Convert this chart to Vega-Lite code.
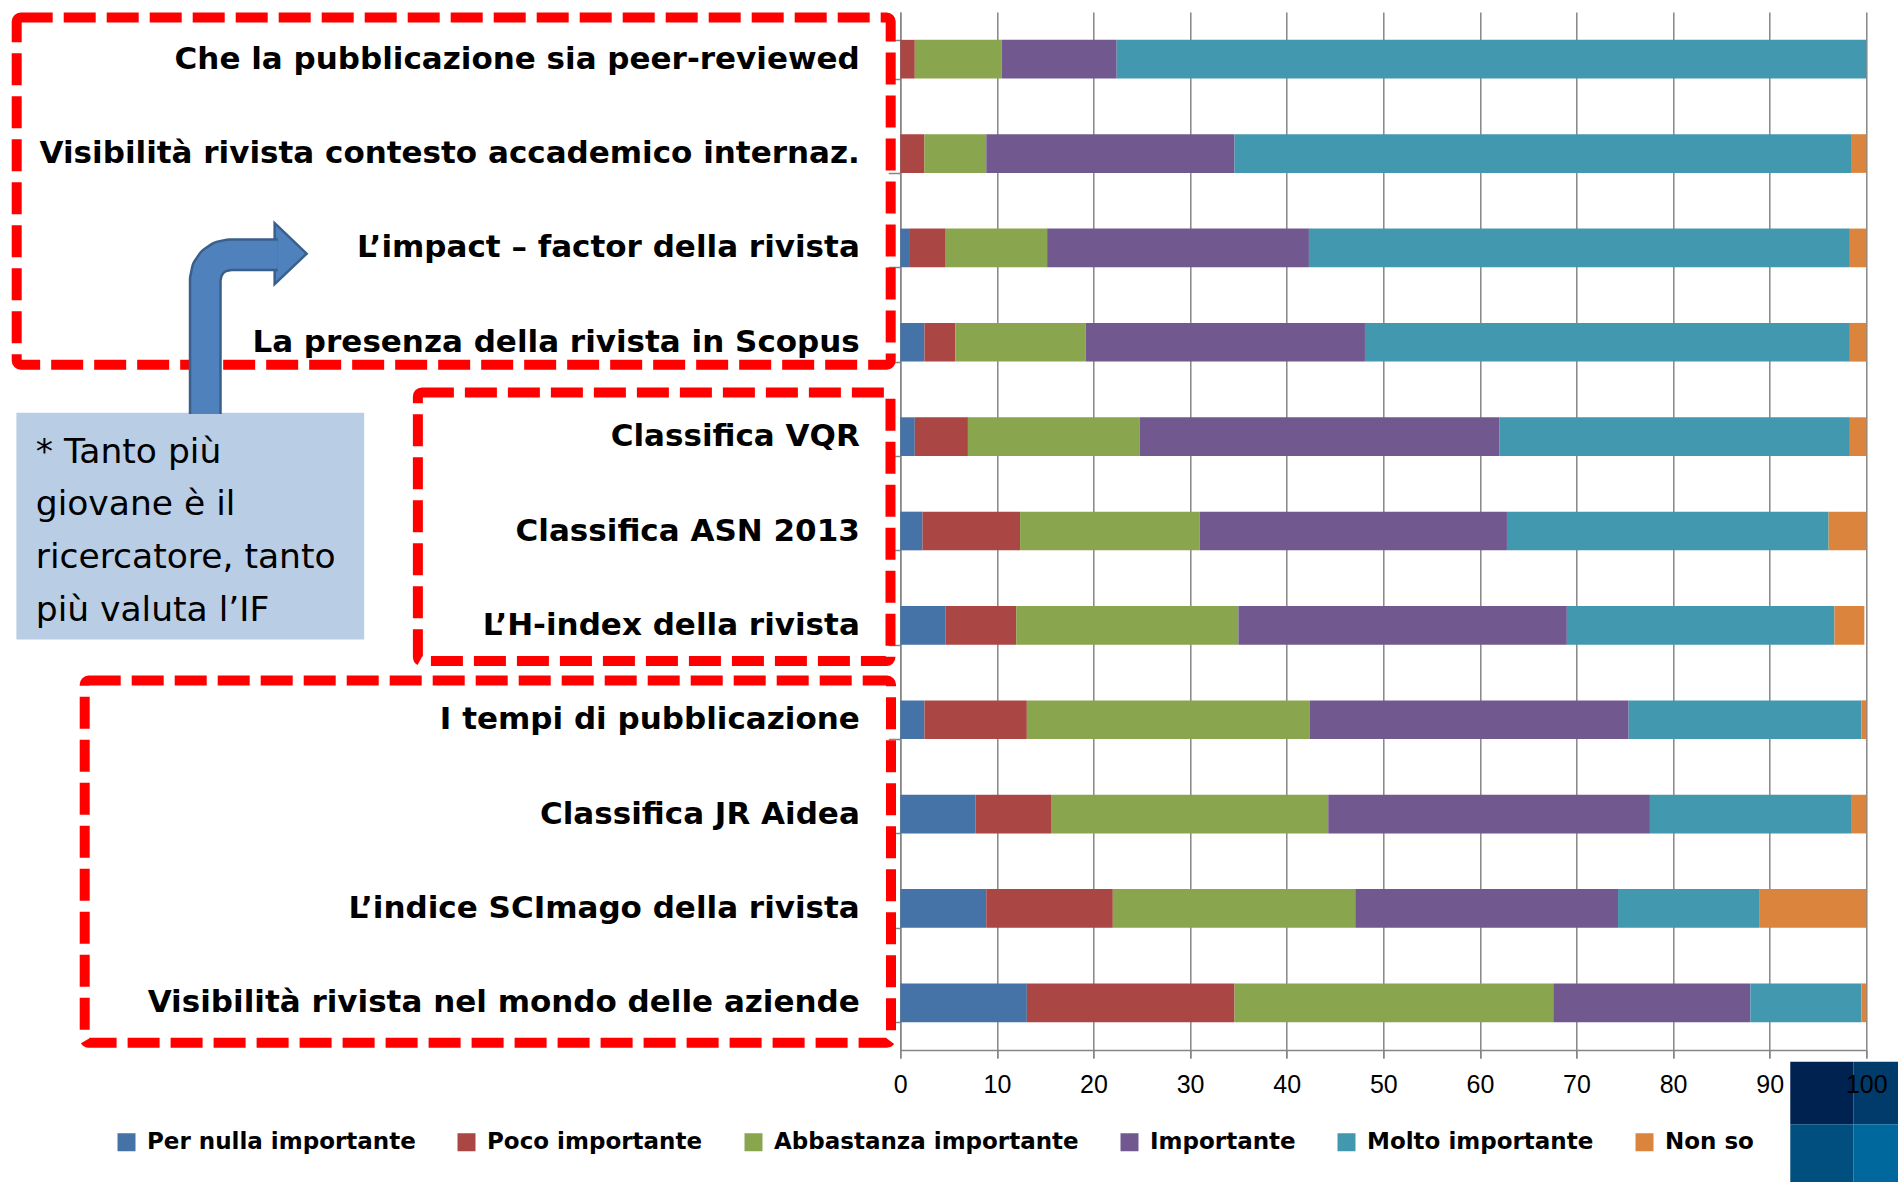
{
  "$schema": "https://vega.github.io/schema/vega-lite/v6.json",
  "width": 966,
  "height": 1038,
  "autosize": {"type": "none"},
  "padding": {"left": 900.3, "top": 12, "right": 31.7, "bottom": 132},
  "background": "#ffffff",
  "config": {"view": {"stroke": null}},
  "datasets": {
    "bars": [
      {"item": "Che la pubblicazione sia peer-reviewed", "cat": "Per nulla importante", "k": 1, "pct": 0},
      {"item": "Che la pubblicazione sia peer-reviewed", "cat": "Poco importante", "k": 2, "pct": 1.5},
      {"item": "Che la pubblicazione sia peer-reviewed", "cat": "Abbastanza importante", "k": 3, "pct": 9.0},
      {"item": "Che la pubblicazione sia peer-reviewed", "cat": "Importante", "k": 4, "pct": 11.9},
      {"item": "Che la pubblicazione sia peer-reviewed", "cat": "Molto importante", "k": 5, "pct": 77.6},
      {"item": "Che la pubblicazione sia peer-reviewed", "cat": "Non so", "k": 6, "pct": 0},
      {"item": "Visibilità rivista contesto accademico internaz.", "cat": "Per nulla importante", "k": 1, "pct": 0},
      {"item": "Visibilità rivista contesto accademico internaz.", "cat": "Poco importante", "k": 2, "pct": 2.5},
      {"item": "Visibilità rivista contesto accademico internaz.", "cat": "Abbastanza importante", "k": 3, "pct": 6.4},
      {"item": "Visibilità rivista contesto accademico internaz.", "cat": "Importante", "k": 4, "pct": 25.7},
      {"item": "Visibilità rivista contesto accademico internaz.", "cat": "Molto importante", "k": 5, "pct": 63.9},
      {"item": "Visibilità rivista contesto accademico internaz.", "cat": "Non so", "k": 6, "pct": 1.5},
      {"item": "L’impact – factor della rivista", "cat": "Per nulla importante", "k": 1, "pct": 1.0},
      {"item": "L’impact – factor della rivista", "cat": "Poco importante", "k": 2, "pct": 3.7},
      {"item": "L’impact – factor della rivista", "cat": "Abbastanza importante", "k": 3, "pct": 10.5},
      {"item": "L’impact – factor della rivista", "cat": "Importante", "k": 4, "pct": 27.1},
      {"item": "L’impact – factor della rivista", "cat": "Molto importante", "k": 5, "pct": 56.0},
      {"item": "L’impact – factor della rivista", "cat": "Non so", "k": 6, "pct": 1.7},
      {"item": "La presenza della rivista in Scopus", "cat": "Per nulla importante", "k": 1, "pct": 2.5},
      {"item": "La presenza della rivista in Scopus", "cat": "Poco importante", "k": 2, "pct": 3.2},
      {"item": "La presenza della rivista in Scopus", "cat": "Abbastanza importante", "k": 3, "pct": 13.5},
      {"item": "La presenza della rivista in Scopus", "cat": "Importante", "k": 4, "pct": 28.9},
      {"item": "La presenza della rivista in Scopus", "cat": "Molto importante", "k": 5, "pct": 50.2},
      {"item": "La presenza della rivista in Scopus", "cat": "Non so", "k": 6, "pct": 1.7},
      {"item": "Classifica VQR", "cat": "Per nulla importante", "k": 1, "pct": 1.5},
      {"item": "Classifica VQR", "cat": "Poco importante", "k": 2, "pct": 5.5},
      {"item": "Classifica VQR", "cat": "Abbastanza importante", "k": 3, "pct": 17.8},
      {"item": "Classifica VQR", "cat": "Importante", "k": 4, "pct": 37.2},
      {"item": "Classifica VQR", "cat": "Molto importante", "k": 5, "pct": 36.3},
      {"item": "Classifica VQR", "cat": "Non so", "k": 6, "pct": 1.7},
      {"item": "Classifica ASN 2013", "cat": "Per nulla importante", "k": 1, "pct": 2.3},
      {"item": "Classifica ASN 2013", "cat": "Poco importante", "k": 2, "pct": 10.1},
      {"item": "Classifica ASN 2013", "cat": "Abbastanza importante", "k": 3, "pct": 18.6},
      {"item": "Classifica ASN 2013", "cat": "Importante", "k": 4, "pct": 31.8},
      {"item": "Classifica ASN 2013", "cat": "Molto importante", "k": 5, "pct": 33.3},
      {"item": "Classifica ASN 2013", "cat": "Non so", "k": 6, "pct": 3.9},
      {"item": "L’H-index della rivista", "cat": "Per nulla importante", "k": 1, "pct": 4.7},
      {"item": "L’H-index della rivista", "cat": "Poco importante", "k": 2, "pct": 7.3},
      {"item": "L’H-index della rivista", "cat": "Abbastanza importante", "k": 3, "pct": 23.0},
      {"item": "L’H-index della rivista", "cat": "Importante", "k": 4, "pct": 34.0},
      {"item": "L’H-index della rivista", "cat": "Molto importante", "k": 5, "pct": 27.7},
      {"item": "L’H-index della rivista", "cat": "Non so", "k": 6, "pct": 3.1},
      {"item": "I tempi di pubblicazione", "cat": "Per nulla importante", "k": 1, "pct": 2.5},
      {"item": "I tempi di pubblicazione", "cat": "Poco importante", "k": 2, "pct": 10.6},
      {"item": "I tempi di pubblicazione", "cat": "Abbastanza importante", "k": 3, "pct": 29.3},
      {"item": "I tempi di pubblicazione", "cat": "Importante", "k": 4, "pct": 33.0},
      {"item": "I tempi di pubblicazione", "cat": "Molto importante", "k": 5, "pct": 24.1},
      {"item": "I tempi di pubblicazione", "cat": "Non so", "k": 6, "pct": 0.5},
      {"item": "Classifica JR Aidea", "cat": "Per nulla importante", "k": 1, "pct": 7.8},
      {"item": "Classifica JR Aidea", "cat": "Poco importante", "k": 2, "pct": 7.8},
      {"item": "Classifica JR Aidea", "cat": "Abbastanza importante", "k": 3, "pct": 28.7},
      {"item": "Classifica JR Aidea", "cat": "Importante", "k": 4, "pct": 33.3},
      {"item": "Classifica JR Aidea", "cat": "Molto importante", "k": 5, "pct": 20.9},
      {"item": "Classifica JR Aidea", "cat": "Non so", "k": 6, "pct": 1.5},
      {"item": "L’indice SCImago della rivista", "cat": "Per nulla importante", "k": 1, "pct": 8.9},
      {"item": "L’indice SCImago della rivista", "cat": "Poco importante", "k": 2, "pct": 13.1},
      {"item": "L’indice SCImago della rivista", "cat": "Abbastanza importante", "k": 3, "pct": 25.1},
      {"item": "L’indice SCImago della rivista", "cat": "Importante", "k": 4, "pct": 27.2},
      {"item": "L’indice SCImago della rivista", "cat": "Molto importante", "k": 5, "pct": 14.6},
      {"item": "L’indice SCImago della rivista", "cat": "Non so", "k": 6, "pct": 11.1},
      {"item": "Visibilità rivista nel mondo delle aziende", "cat": "Per nulla importante", "k": 1, "pct": 13.1},
      {"item": "Visibilità rivista nel mondo delle aziende", "cat": "Poco importante", "k": 2, "pct": 21.5},
      {"item": "Visibilità rivista nel mondo delle aziende", "cat": "Abbastanza importante", "k": 3, "pct": 33.0},
      {"item": "Visibilità rivista nel mondo delle aziende", "cat": "Importante", "k": 4, "pct": 20.4},
      {"item": "Visibilità rivista nel mondo delle aziende", "cat": "Molto importante", "k": 5, "pct": 11.5},
      {"item": "Visibilità rivista nel mondo delle aziende", "cat": "Non so", "k": 6, "pct": 0.5}
    ],
    "boxes": [
      {"v": -91.47, "v2": -0.994, "r": 0.0583, "r2": 3.738},
      {"v": -49.94, "v2": -1.015, "r": 4.032, "r2": 6.878},
      {"v": -84.43, "v2": -0.963, "r": 7.085, "r2": 10.922}
    ],
    "notebox": [
      {"v": -91.5, "v2": -55.5, "r": 4.248, "r2": 6.651}
    ],
    "arrow": [
      {"o": 1, "v": -71.95, "r": 4.26},
      {"o": 2, "v": -71.95, "r": 2.832},
      {"o": 3, "v": -71.75, "r": 2.732},
      {"o": 4, "v": -71.2, "r": 2.648},
      {"o": 5, "v": -70.38, "r": 2.592},
      {"o": 6, "v": -69.41, "r": 2.572},
      {"o": 7, "v": -64.44, "r": 2.572}
    ],
    "arrowhead": [
      {"v": -63.11, "r": 2.561}
    ],
    "notes": [
      {"t": "* Tanto più", "v": -89.5, "r": 4.78},
      {"t": "giovane è il", "v": -89.5, "r": 5.331},
      {"t": "ricercatore, tanto", "v": -89.5, "r": 5.892},
      {"t": "più valuta l’IF", "v": -89.5, "r": 6.454}
    ],
    "logo": [
      {"v": 92.13, "v2": 98.69, "r": 11.124, "r2": 11.788, "c": "#002251"},
      {"v": 98.69, "v2": 104, "r": 11.124, "r2": 11.788, "c": "#003b6b"},
      {"v": 92.13, "v2": 98.69, "r": 11.788, "r2": 12.6, "c": "#004f7f"},
      {"v": 98.69, "v2": 104, "r": 11.788, "r2": 12.6, "c": "#00689d"}
    ]
  },
  "layer": [
    {
      "data": {"name": "notebox"},
      "mark": {"type": "rect", "fill": "#B9CDE5"},
      "encoding": {
        "x": {"field": "v", "type": "quantitative", "scale": {"domain": [0, 100], "nice": false}, "axis": null},
        "x2": {"field": "v2"},
        "y": {"field": "r", "type": "quantitative", "scale": {"domain": [0, 11], "reverse": true, "nice": false, "zero": false}, "axis": null},
        "y2": {"field": "r2"}
      }
    },
    {
      "data": {"name": "boxes"},
      "mark": {"type": "rect", "fill": "transparent", "stroke": "#FF0000", "strokeWidth": 10, "strokeDash": [32, 11], "cornerRadius": 4},
      "encoding": {
        "x": {"field": "v", "type": "quantitative", "scale": {"domain": [0, 100], "nice": false}, "axis": null},
        "x2": {"field": "v2"},
        "y": {"field": "r", "type": "quantitative", "scale": {"domain": [0, 11], "reverse": true, "nice": false, "zero": false}, "axis": null},
        "y2": {"field": "r2"}
      }
    },
    {
      "data": {"name": "arrowhead"},
      "mark": {"type": "point", "shape": "M -0.525 -1 L 0.525 0 L -0.525 1 Z", "size": 3721, "filled": true, "fill": "#4F81BD", "stroke": "#3A5F8B", "strokeWidth": 2.5, "opacity": 1},
      "encoding": {
        "x": {"field": "v", "type": "quantitative", "scale": {"domain": [0, 100], "nice": false}, "axis": null},
        "y": {"field": "r", "type": "quantitative", "scale": {"domain": [0, 11], "reverse": true, "nice": false, "zero": false}, "axis": null}
      }
    },
    {
      "data": {"name": "arrow"},
      "mark": {"type": "line", "stroke": "#3A5F8B", "strokeWidth": 33, "strokeCap": "butt", "strokeJoin": "round"},
      "encoding": {
        "x": {"field": "v", "type": "quantitative", "scale": {"domain": [0, 100], "nice": false}, "axis": null},
        "y": {"field": "r", "type": "quantitative", "scale": {"domain": [0, 11], "reverse": true, "nice": false, "zero": false}, "axis": null},
        "order": {"field": "o", "type": "quantitative"}
      }
    },
    {
      "data": {"name": "arrow"},
      "mark": {"type": "line", "stroke": "#4F81BD", "strokeWidth": 28, "strokeCap": "butt", "strokeJoin": "round"},
      "encoding": {
        "x": {"field": "v", "type": "quantitative", "scale": {"domain": [0, 100], "nice": false}, "axis": null},
        "y": {"field": "r", "type": "quantitative", "scale": {"domain": [0, 11], "reverse": true, "nice": false, "zero": false}, "axis": null},
        "order": {"field": "o", "type": "quantitative"}
      }
    },
    {
      "data": {"name": "notes"},
      "mark": {"type": "text", "align": "left", "baseline": "alphabetic", "font": "DejaVu Sans", "fontSize": 34.5, "color": "#000000"},
      "encoding": {
        "x": {"field": "v", "type": "quantitative", "scale": {"domain": [0, 100], "nice": false}, "axis": null},
        "y": {"field": "r", "type": "quantitative", "scale": {"domain": [0, 11], "reverse": true, "nice": false, "zero": false}, "axis": null},
        "text": {"field": "t", "type": "nominal"}
      }
    },
    {
      "data": {"name": "logo"},
      "mark": {"type": "rect"},
      "encoding": {
        "x": {"field": "v", "type": "quantitative", "scale": {"domain": [0, 100], "nice": false},
              "axis": {"orient": "bottom", "title": null, "values": [0, 10, 20, 30, 40, 50, 60, 70, 80, 90, 100], "grid": false, "domain": false, "ticks": true, "tickSize": 8, "tickColor": "#868686", "tickWidth": 1.5, "labels": true, "labelFont": "Liberation Sans", "labelFontSize": 25, "labelColor": "#000000", "labelPadding": 14, "labelFlush": false, "labelOverlap": false, "zindex": 1}},
        "x2": {"field": "v2"},
        "y": {"field": "r", "type": "quantitative", "scale": {"domain": [0, 11], "reverse": true, "nice": false, "zero": false}, "axis": null},
        "y2": {"field": "r2"},
        "fill": {"field": "c", "type": "nominal", "scale": null, "legend": null}
      }
    },
    {
      "data": {"name": "bars"},
      "mark": {"type": "bar"},
      "encoding": {
        "y": {"field": "item", "type": "nominal", "sort": null,
              "scale": {"paddingInner": 0.59, "paddingOuter": 0.295},
              "axis": {"title": null, "orient": "left", "grid": false, "domain": true, "domainColor": "#868686", "domainWidth": 1.5, "ticks": true, "tickBand": "extent", "tickSize": 12, "tickColor": "#868686", "tickWidth": 1.5, "labelFont": "DejaVu Sans", "labelFontWeight": "bold", "labelFontSize": 31, "labelColor": "#000000", "labelPadding": 29, "labelLimit": 1000}},
        "x": {"field": "pct", "type": "quantitative", "stack": "zero", "scale": {"domain": [0, 100], "nice": false},
              "axis": {"orient": "bottom", "title": null, "values": [0, 10, 20, 30, 40, 50, 60, 70, 80, 90, 100], "grid": true, "gridColor": "#868686", "gridWidth": 1.5, "domain": true, "domainColor": "#868686", "domainWidth": 1.5, "ticks": true, "tickSize": 8, "tickColor": "#868686", "tickWidth": 1.5, "labels": false, "zindex": 0}},
        "color": {"field": "cat", "type": "nominal",
                  "scale": {"domain": ["Per nulla importante", "Poco importante", "Abbastanza importante", "Importante", "Molto importante", "Non so"],
                            "range": ["#4572A7", "#AA4643", "#89A54E", "#71588F", "#4198AF", "#DB843D"]},
                  "legend": {"orient": "none", "legendX": -785.3, "legendY": 1118.5, "direction": "horizontal", "title": null, "symbolType": "square", "symbolSize": 324, "symbolStrokeWidth": 0, "labelFont": "DejaVu Sans", "labelFontWeight": "bold", "labelFontSize": 23, "labelColor": "#000000", "labelOffset": 9, "columnPadding": 39, "labelLimit": 1000}},
        "order": {"field": "k", "type": "quantitative"}
      }
    }
  ],
  "resolve": {"scale": {"y": "independent"}, "axis": {"x": "independent"}}
}
